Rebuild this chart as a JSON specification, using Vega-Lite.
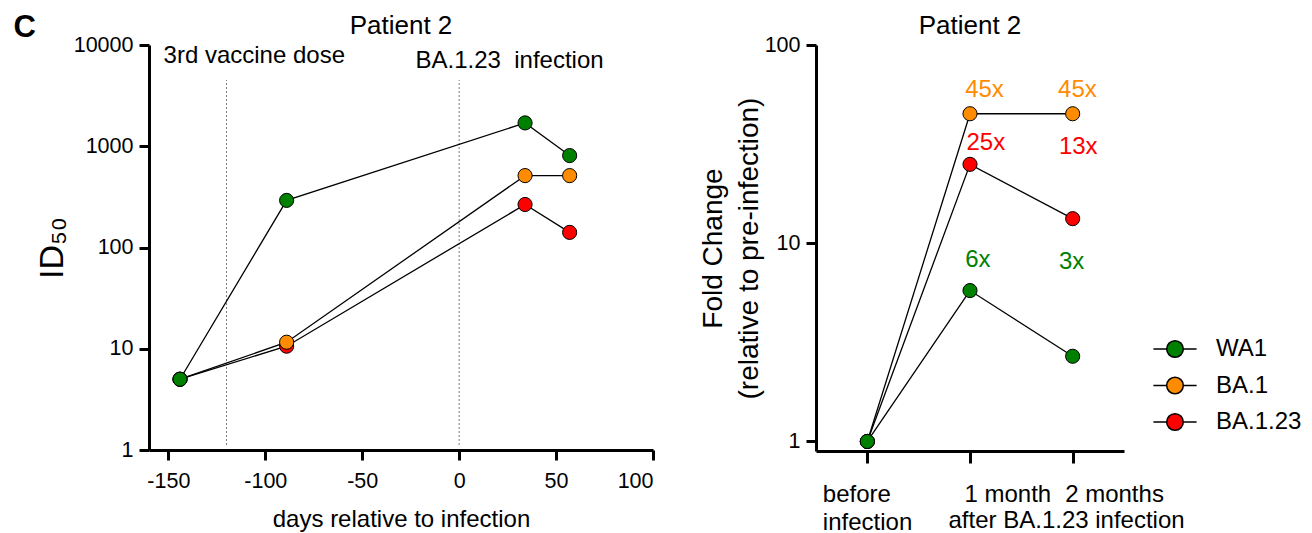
{
  "$schema": "https://vega.github.io/schema/vega-lite/v6.json",
  "padding": {"left": 13, "top": 12, "right": 5, "bottom": 0},
  "spacing": 44,
  "title": {"text": "C", "orient": "left", "anchor": "end", "angle": 0, "fontSize": 31, "fontWeight": "bold", "baseline": "top", "offset": -23, "color": "black"},
  "datasets": {
    "titers": [
      {"variant": "BA.1.23", "day": -144, "id50": 5},
      {"variant": "BA.1.23", "day": -89, "id50": 10.6},
      {"variant": "BA.1.23", "day": 34, "id50": 266},
      {"variant": "BA.1.23", "day": 57, "id50": 141},
      {"variant": "BA.1", "day": -144, "id50": 5},
      {"variant": "BA.1", "day": -89, "id50": 11.6},
      {"variant": "BA.1", "day": 34, "id50": 513},
      {"variant": "BA.1", "day": 57, "id50": 513},
      {"variant": "WA1", "day": -144, "id50": 5},
      {"variant": "WA1", "day": -89, "id50": 292},
      {"variant": "WA1", "day": 34, "id50": 1700},
      {"variant": "WA1", "day": 57, "id50": 809}
    ],
    "events": [
      {"event": "3rd vaccine dose", "day": -120, "labelX": -105.7, "labelY": 7700},
      {"event": "BA.1.23\u00a0 infection", "day": 0, "labelX": 26, "labelY": 6900}
    ],
    "fold": [
      {"variant": "BA.1.23", "t": 0, "fold": 1},
      {"variant": "BA.1.23", "t": 1, "fold": 25},
      {"variant": "BA.1.23", "t": 2, "fold": 13.3},
      {"variant": "BA.1", "t": 0, "fold": 1},
      {"variant": "BA.1", "t": 1, "fold": 45},
      {"variant": "BA.1", "t": 2, "fold": 45},
      {"variant": "WA1", "t": 0, "fold": 1},
      {"variant": "WA1", "t": 1, "fold": 5.77},
      {"variant": "WA1", "t": 2, "fold": 2.69}
    ],
    "foldLabels": [
      {"variant": "BA.1", "labelX": 0.953, "labelY": 59.5, "label": "45x"},
      {"variant": "BA.1", "labelX": 1.858, "labelY": 59.5, "label": "45x"},
      {"variant": "BA.1.23", "labelX": 0.966, "labelY": 32.2, "label": "25x"},
      {"variant": "BA.1.23", "labelX": 1.866, "labelY": 30.7, "label": "13x"},
      {"variant": "WA1", "labelX": 0.953, "labelY": 8.24, "label": "6x"},
      {"variant": "WA1", "labelX": 1.866, "labelY": 8.07, "label": "3x"}
    ]
  },
  "resolve": {"legend": {"color": "independent"}},
  "hconcat": [
    {
      "width": 504,
      "height": 405,
      "title": {"text": "Patient 2", "fontSize": 26, "fontWeight": "normal", "offset": -5, "frame": "group"},
      "layer": [
        {
          "data": {"name": "events"},
          "mark": {"type": "rule", "color": "#777777", "strokeWidth": 1, "strokeDash": [2, 2]},
          "encoding": {
            "x": {"field": "day", "type": "quantitative", "scale": {"domain": [-160, 100], "nice": false, "zero": false},
              "axis": {"values": [-150, -100, -50, 0, 50, 100], "labelExpr": "datum.value + ''", "labelPadding": 10, "title": "days relative to infection", "titlePadding": 16}},
            "y": {"datum": 1.12, "type": "quantitative", "scale": {"type": "log", "domain": [1, 10000], "nice": false},
              "axis": {"values": [1, 10, 100, 1000, 10000], "labelExpr": "datum.value + ''", "title": "ID₅₀", "titleFontSize": 34, "titlePadding": 4}},
            "y2": {"datum": 4500}
          }
        },
        {
          "mark": {"type": "rule", "color": "black", "strokeWidth": 2.6, "strokeDash": [2.6, 4.2]},
          "encoding": {"y": {"datum": 10, "type": "quantitative"}}
        },
        {
          "data": {"name": "events"},
          "mark": {"type": "text", "fontSize": 24, "align": "center", "baseline": "middle", "color": "black"},
          "encoding": {
            "x": {"field": "labelX", "type": "quantitative"},
            "y": {"field": "labelY", "type": "quantitative"},
            "text": {"field": "event"}
          }
        },
        {
          "data": {"name": "titers"},
          "mark": {"type": "line", "color": "black", "strokeWidth": 1.3},
          "encoding": {
            "x": {"field": "day", "type": "quantitative"},
            "y": {"field": "id50", "type": "quantitative"},
            "detail": {"field": "variant"}
          }
        },
        {
          "data": {"name": "titers"},
          "mark": {"type": "point", "filled": true, "shape": "circle", "size": 200, "stroke": "black", "strokeWidth": 1, "opacity": 1},
          "encoding": {
            "x": {"field": "day", "type": "quantitative"},
            "y": {"field": "id50", "type": "quantitative"},
            "color": {"field": "variant", "type": "nominal",
              "scale": {"domain": ["WA1", "BA.1", "BA.1.23"], "range": ["#008000", "#FF8C00", "#FF0000"]},
              "legend": null}
          }
        }
      ]
    },
    {
      "width": 308,
      "height": 406,
      "title": {"text": "Patient 2", "fontSize": 26, "fontWeight": "normal", "offset": -5, "frame": "group"},
      "layer": [
        {
          "data": {"name": "fold"},
          "mark": {"type": "line", "color": "black", "strokeWidth": 1.3},
          "encoding": {
            "x": {"field": "t", "type": "quantitative", "scale": {"domain": [-0.5, 2.5], "nice": false, "zero": false},
              "axis": {"values": [0, 1, 2],
                "labelExpr": "datum.value == 0 ? ['before', 'infection'] : datum.value == 1 ? '1 month' : '2 months'",
                "labelAlign": "left", "labelLineHeight": 28, "labelFontSize": 24, "labelPadding": 19, "tickSize": 12,
                "labelOffset": {"condition": [{"test": "datum.value == 0", "value": -45}, {"test": "datum.value == 1", "value": -6}], "value": -8},
                "title": "after BA.1.23 infection", "titleAlign": "left", "titleAnchor": "start", "titleX": 132, "titleY": 57, "titleBaseline": "top"}},
            "y": {"field": "fold", "type": "quantitative", "scale": {"type": "log", "domain": [0.895, 100], "nice": false},
              "axis": {"values": [1, 10, 100], "labelExpr": "datum.value + ''", "title": ["Fold Change", "(relative to pre-infection)"], "titleFontSize": 28, "titleLineHeight": 36, "titlePadding": 1}},
            "detail": {"field": "variant"}
          }
        },
        {
          "data": {"name": "foldLabels"},
          "mark": {"type": "text", "fontSize": 24, "align": "left", "baseline": "middle"},
          "encoding": {
            "x": {"field": "labelX", "type": "quantitative"},
            "y": {"field": "labelY", "type": "quantitative"},
            "text": {"field": "label"},
            "color": {"field": "variant", "type": "nominal",
              "scale": {"domain": ["WA1", "BA.1", "BA.1.23"], "range": ["#008000", "#FF8C00", "#FF0000"]}}
          }
        },
        {
          "data": {"name": "fold"},
          "mark": {"type": "point", "filled": true, "shape": "circle", "size": 200, "stroke": "black", "strokeWidth": 1, "opacity": 1},
          "encoding": {
            "x": {"field": "t", "type": "quantitative"},
            "y": {"field": "fold", "type": "quantitative"},
            "color": {"field": "variant", "type": "nominal",
              "scale": {"domain": ["WA1", "BA.1", "BA.1.23"], "range": ["#008000", "#FF8C00", "#FF0000"]},
              "legend": {
                "orient": "none", "legendX": 347, "legendY": 292, "title": null, "padding": 0,
                "symbolType": "M-2.6,0H-1M1,0H2.6M-1,0A1,1 0 1,1 1,0A1,1 0 1,1 -1,0Z",
                "symbolSize": 276, "labelFontSize": 24, "labelOffset": 29, "rowPadding": 12.5,
                "labelColor": "black",
                "encode": {"symbols": {"update": {"stroke": {"value": "black"}, "strokeWidth": {"value": 1.3}, "opacity": {"value": 1}}}}
              }}
          }
        }
      ]
    }
  ],
  "config": {
    "font": "Liberation Sans",
    "view": {"stroke": null},
    "axis": {
      "grid": false,
      "domainColor": "black", "domainWidth": 3,
      "tickColor": "black", "tickWidth": 3, "tickSize": 10,
      "labelColor": "black", "labelFontSize": 21.5, "labelPadding": 6,
      "titleColor": "black", "titleFontSize": 24, "titleFontWeight": "normal"
    },
    "text": {"font": "Liberation Sans"},
    "legend": {"labelFont": "Liberation Sans"},
    "title": {"color": "black", "font": "Liberation Sans"}
  }
}
